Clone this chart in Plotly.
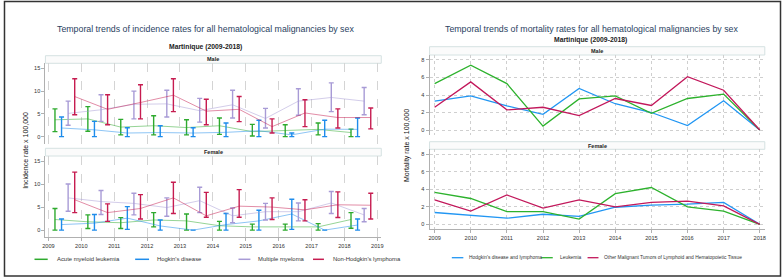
import plotly.graph_objects as go

W, H = 784, 279
FONT = "Liberation Sans"

# ---------------- data ----------------
years = list(range(2009, 2019))

# Incidence (rate x 100,000) – Male
m_aml = [3.7, 3.9, 2.1, 2.4, 2.0, 2.4, 1.1, 1.35, 1.6, 0.9]
m_aml_lo = [1.1, 1.2, 0.4, 0.4, 0.4, 0.5, 0.15, 0.0, 0.4, 0.0]
m_aml_hi = [6.1, 6.6, 3.8, 4.6, 3.7, 4.1, 2.7, 2.6, 3.0, 1.65]
m_hod = [1.9, 1.5, 0.8, 0.9, 0.8, 0.95, 1.3, 0.4, 1.65, 1.6]
m_hod_lo = [0, 0, 0, 0, 0, 0, 0, 0, 0, 0]
m_hod_hi = [4.3, 3.35, 1.95, 2.4, 1.95, 3.0, 3.6, 0.8, 3.6, 4.1]
m_mm = [5.1, 5.9, 7.1, 7.2, 5.7, 7.0, 4.0, 7.8, 8.6, 7.8]
m_mm_lo = [2.5, 3.35, 3.9, 4.3, 3.2, 4.1, 1.9, 4.7, 5.5, 4.8]
m_mm_hi = [7.8, 9.2, 10.0, 10.2, 8.4, 10.2, 6.2, 10.5, 11.8, 10.8]
m_nhl = [8.8, 6.0, 7.5, 9.1, 5.6, 6.0, 2.2, 5.2, 4.2, 4.2]
m_nhl_lo = [4.8, 2.6, 3.9, 5.5, 2.6, 3.3, 0.8, 2.2, 1.9, 1.7]
m_nhl_hi = [12.7, 9.2, 11.4, 12.7, 8.2, 8.8, 3.9, 8.1, 6.1, 6.3]

# Incidence – Female
f_aml = [2.3, 1.8, 1.6, 2.2, 2.0, 0.95, 0.7, 0.7, 0.7, 2.3]
f_aml_lo = [0.0, 0.35, 0.35, 0.7, 0.0, 0.0, 0.0, 0.0, 0.0, 0.4]
f_aml_hi = [4.7, 3.3, 2.7, 3.8, 3.5, 1.9, 1.3, 1.3, 1.4, 3.8]
f_hod = [1.2, 1.5, 2.6, 0.9, 0.0, 1.2, 2.0, 3.5, 0.0, 1.1]
f_hod_lo = [0, 0, 0.15, 0, 0, 0, 0, 0.15, 0, 0]
f_hod_hi = [2.4, 3.4, 5.1, 2.2, 0.0, 3.6, 4.3, 6.7, 0.0, 2.4]
f_mm = [7.0, 6.2, 5.8, 4.9, 6.4, 3.1, 4.0, 4.0, 5.9, 3.3]
f_mm_lo = [4.1, 3.4, 3.3, 3.0, 3.8, 1.6, 2.2, 2.0, 3.6, 1.8]
f_mm_hi = [10.0, 8.6, 8.0, 7.0, 9.3, 4.8, 5.8, 5.9, 8.4, 4.7]
f_nhl = [6.6, 3.8, 4.7, 7.0, 3.1, 5.2, 5.0, 4.4, 5.5, 5.4]
f_nhl_lo = [3.8, 1.9, 2.4, 3.6, 2.8, 2.8, 2.3, 2.0, 2.75, 2.4]
f_nhl_hi = [12.6, 5.7, 7.7, 10.4, 8.2, 8.8, 7.0, 6.6, 8.3, 8.0]

# Mortality (rate x 100,000)
mort_m_hod = [3.3, 3.9, 2.75, 1.8, 4.75, 3.0, 2.0, 0.5, 3.35, 0.0]
mort_m_leu = [5.3, 7.4, 5.3, 0.45, 3.55, 3.9, 1.9, 3.6, 4.1, 0.0]
mort_m_oth = [2.6, 5.5, 2.3, 2.6, 1.65, 3.6, 2.8, 6.1, 4.55, 0.0]
mort_f_hod = [1.35, 1.05, 0.7, 1.15, 0.9, 1.95, 2.2, 2.3, 2.5, 0.0]
mort_f_leu = [3.65, 2.95, 1.45, 1.45, 0.6, 3.5, 4.2, 2.0, 1.5, 0.0]
mort_f_oth = [2.8, 1.5, 3.35, 1.85, 2.8, 2.0, 2.5, 2.65, 2.1, 0.0]

inc_names = ["Acute myeloid leukemia", "Hogkin's disease", "Multiple myeloma", "Non-Hodgkin's lymphoma"]
mort_names = ["Hodgkin's disease and lymphoma", "Leukemia",
              "Other Malignant Tumors of Lymphoid and Hematopoietic Tissue"]
inc_ticks = list(range(2009, 2020))
# ---------------------------------------

inc_colors = [(46, 170, 46), (30, 140, 235), (168, 155, 214), (198, 28, 80)]
inc_offsets = [0.2, 0.4, 0.6, 0.8]
mort_colors = ["#2196f3", "#2db22d", "#c2185b"]


def px_x(p):
    return p / W


def px_y(p):
    return 1 - p / H


fig = go.Figure()

male_inc = [(m_aml, m_aml_lo, m_aml_hi), (m_hod, m_hod_lo, m_hod_hi),
            (m_mm, m_mm_lo, m_mm_hi), (m_nhl, m_nhl_lo, m_nhl_hi)]
female_inc = [(f_aml, f_aml_lo, f_aml_hi), (f_hod, f_hod_lo, f_hod_hi),
              (f_mm, f_mm_lo, f_mm_hi), (f_nhl, f_nhl_lo, f_nhl_hi)]

for panel, (series, xa, ya) in enumerate([(male_inc, "x", "y"), (female_inc, "x2", "y2")]):
    for i, (mid, lo, hi) in enumerate(series):
        r, g, b = inc_colors[i]
        xs = [y + inc_offsets[i] for y in years]
        fig.add_trace(go.Scatter(
            x=xs, y=mid, mode="lines", name=inc_names[i],
            xaxis=xa, yaxis=ya, showlegend=False,
            line=dict(color=f"rgba({r},{g},{b},0.5)", width=1),
            error_y=dict(type="data", symmetric=False,
                         array=[h - m for h, m in zip(hi, mid)],
                         arrayminus=[m - l for m, l in zip(mid, lo)],
                         color=f"rgb({r},{g},{b})", thickness=1.4, width=2.5),
        ))

for panel, (series, xa, ya) in enumerate([
        ([mort_m_hod, mort_m_leu, mort_m_oth], "x3", "y3"),
        ([mort_f_hod, mort_f_leu, mort_f_oth], "x4", "y4")]):
    for i, vals in enumerate(series):
        fig.add_trace(go.Scatter(
            x=years, y=vals, mode="lines", name=mort_names[i],
            xaxis=xa, yaxis=ya, showlegend=False,
            line=dict(color=mort_colors[i], width=1.3),
        ))

tickfont = dict(family=FONT, size=5.6, color="#333")

left_x = [px_x(42.7), px_x(380.7)]
right_x = [px_x(429.3), px_x(766.7)]

common_left_x = dict(range=[2008.91, 2019.12], tickvals=inc_ticks, showgrid=True,
                     gridcolor="#d4d4d4", griddash="dash", gridwidth=1,
                     zeroline=False, tickfont=tickfont, domain=left_x)
common_right_x = dict(range=[2008.86, 2018.14], tickvals=years, showgrid=True,
                      gridcolor="#cfcfcf", griddash="dot", gridwidth=1,
                      zeroline=False, tickfont=tickfont, domain=right_x)
left_y = dict(range=[-1.5, 16.1], tickvals=[0, 5, 10, 15], showgrid=False, zeroline=False,
              showline=True, linecolor="#b0b0b0", linewidth=1, ticks="outside",
              ticklen=3, tickcolor="#b0b0b0", tickfont=tickfont)
right_y = dict(range=[-0.57, 8.57], tickvals=[0, 2, 4, 6, 8], showgrid=True,
               gridcolor="#cfcfcf", griddash="dot", gridwidth=1, zeroline=False,
               showline=True, linecolor="#b0b0b0", linewidth=1, ticks="outside",
               ticklen=3, tickcolor="#b0b0b0", tickfont=tickfont)

fig.update_layout(
    xaxis=dict(**common_left_x, anchor="y", showticklabels=False, ticks=""),
    yaxis=dict(**left_y, anchor="x", domain=[px_y(143.5), px_y(63.3)]),
    xaxis2=dict(**common_left_x, anchor="y2", showline=True, linecolor="#b0b0b0",
                ticks="outside", ticklen=3, tickcolor="#b0b0b0"),
    yaxis2=dict(**left_y, anchor="x2", domain=[px_y(237), px_y(156)]),
    xaxis3=dict(**common_right_x, anchor="y3", showticklabels=False, ticks=""),
    yaxis3=dict(**right_y, anchor="x3", domain=[px_y(135), px_y(55)]),
    xaxis4=dict(**common_right_x, anchor="y4", showline=True, linecolor="#b0b0b0",
                ticks="outside", ticklen=3, tickcolor="#b0b0b0"),
    yaxis4=dict(**right_y, anchor="x4", domain=[px_y(229.3), px_y(149.3)]),
)

shapes = []
annotations = []

# outer border
shapes.append(dict(type="rect", xref="paper", yref="paper",
                   x0=px_x(1.5), x1=px_x(782.5), y0=px_y(276), y1=px_y(1.5),
                   line=dict(color="#333", width=1.5), fillcolor="rgba(0,0,0,0)"))

# strips
for (x0, x1, y0, y1, label) in [
        (42.7, 380.7, 55.7, 63.3, "Male"), (42.7, 380.7, 148.3, 156, "Female"),
        (429.3, 766.7, 46.7, 55, "Male"), (429.3, 766.7, 141.7, 149.3, "Female")]:
    shapes.append(dict(type="rect", xref="paper", yref="paper",
                       x0=px_x(x0), x1=px_x(x1), y0=px_y(y1), y1=px_y(y0),
                       line=dict(color="#d5e2e2", width=1), fillcolor="#fbfbfb", layer="below"))
    annotations.append(dict(xref="paper", yref="paper", x=px_x((x0 + x1) / 2),
                            y=px_y((y0 + y1) / 2), text=f"<b>{label}</b>", showarrow=False,
                            font=dict(family=FONT, size=5.5, color="#222"),
                            xanchor="center", yanchor="middle"))

# titles
for (x, y, text, size, color) in [
        (204, 29, "Temporal trends of incidence rates for all hematological malignancies by sex", 8.8, "#2a3f5f"),
        (203.5, 47, "<b>Martinique (2009-2018)</b>", 6.8, "#222"),
        (592.5, 29, "Temporal trends of mortality rates for all hematological malignancies by sex", 8.8, "#2a3f5f"),
        (591.7, 40, "<b>Martinique (2009-2018)</b>", 6.8, "#222")]:
    annotations.append(dict(xref="paper", yref="paper", x=px_x(x), y=px_y(y), text=text,
                            showarrow=False, xanchor="center", yanchor="middle",
                            font=dict(family=FONT, size=size, color=color)))

# y-axis titles
annotations.append(dict(xref="paper", yref="paper", x=px_x(22), y=px_y(150),
                        text="Incidence rate x 100,000", textangle=-90, showarrow=False,
                        xanchor="center", yanchor="middle",
                        font=dict(family=FONT, size=7, color="#111")))
annotations.append(dict(xref="paper", yref="paper", x=px_x(406.7), y=px_y(146),
                        text="Mortality rate x 100,000", textangle=-90, showarrow=False,
                        xanchor="center", yanchor="middle",
                        font=dict(family=FONT, size=7, color="#111")))

# legends (key line + label)
inc_legend_pos = [(31.7, 45, 52.3), (133, 147, 153.3), (237, 249, 255), (312, 323, 330)]
for i, (s0, s1, tx) in enumerate(inc_legend_pos):
    r, g, b = inc_colors[i]
    shapes.append(dict(type="line", xref="paper", yref="paper",
                       x0=px_x(s0), x1=px_x(s1), y0=px_y(259.3), y1=px_y(259.3),
                       line=dict(color=f"rgb({r},{g},{b})", width=1.5)))
    annotations.append(dict(xref="paper", yref="paper", x=px_x(tx), y=px_y(259.3),
                            text=inc_names[i], showarrow=False, xanchor="left", yanchor="middle",
                            font=dict(family=FONT, size=5.9, color="#333")))

mort_legend_pos = [(451.7, 463.3, 466.7), (541.7, 553.3, 558.3), (588.3, 599.3, 603.3)]
for i, (s0, s1, tx) in enumerate(mort_legend_pos):
    shapes.append(dict(type="line", xref="paper", yref="paper",
                       x0=px_x(s0), x1=px_x(s1), y0=px_y(257.7), y1=px_y(257.7),
                       line=dict(color=mort_colors[i], width=1.3)))
    annotations.append(dict(xref="paper", yref="paper", x=px_x(tx), y=px_y(257.7),
                            text=mort_names[i], showarrow=False, xanchor="left", yanchor="middle",
                            font=dict(family=FONT, size=4.9, color="#333")))

fig.update_layout(
    width=W, height=H,
    margin=dict(l=0, r=0, t=0, b=0),
    paper_bgcolor="white", plot_bgcolor="white",
    shapes=shapes, annotations=annotations,
    font=dict(family=FONT),
    showlegend=False,
)

fig.write_html("out.html", config={"displayModeBar": False},
               post_script="document.body.style.margin='0';")
